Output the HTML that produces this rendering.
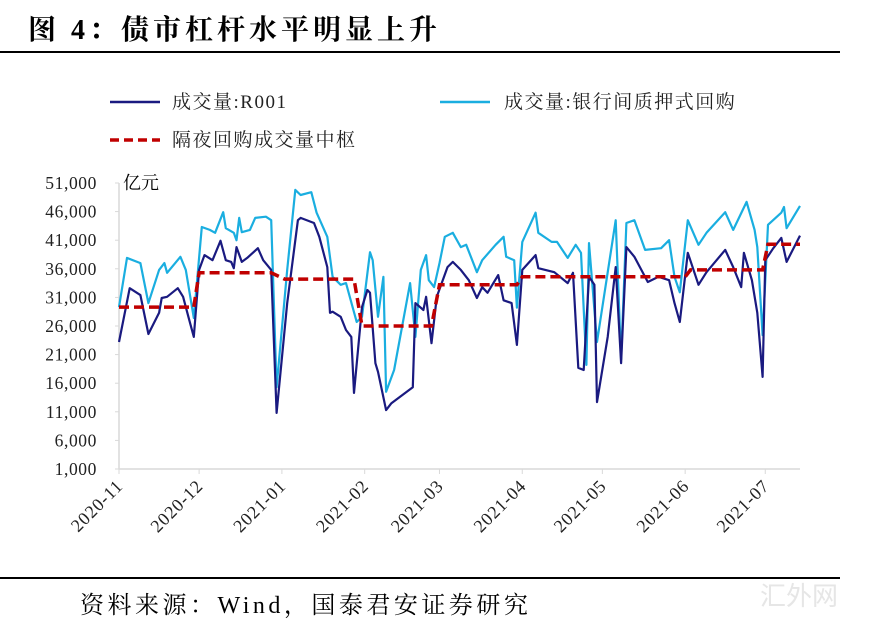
<!DOCTYPE html>
<html><head><meta charset="utf-8">
<style>
html,body{margin:0;padding:0;background:#fff;}
body{width:887px;height:625px;overflow:hidden;position:relative;font-family:"Liberation Serif","Noto Serif CJK SC",serif;}
</style></head>
<body>
<svg id="chart" width="887" height="625" xmlns="http://www.w3.org/2000/svg" style="position:absolute;left:0;top:0">
<text x="28" y="39" font-size="28" font-weight="bold" letter-spacing="4" font-family="Liberation Serif, Noto Serif CJK SC, serif" fill="#000">图 4：债市杠杆水平明显上升</text>
<line x1="0" y1="52" x2="840" y2="52" stroke="#000" stroke-width="2"/>
<g font-size="19" letter-spacing="1.5" font-family="Liberation Serif, Noto Serif CJK SC, serif" fill="#222">
<g><line x1="110" y1="102" x2="160" y2="102" stroke="#1a1a80" stroke-width="2.5"/><text x="172" y="108">成交量:R001</text></g>
<g><line x1="440" y1="102" x2="490" y2="102" stroke="#1aaee0" stroke-width="2.5"/><text x="504" y="108">成交量:银行间质押式回购</text></g>
<g><line x1="110" y1="140" x2="160" y2="140" stroke="#c00000" stroke-width="3.5" stroke-dasharray="9,5"/><text x="172" y="146">隔夜回购成交量中枢</text></g>
</g>
<text x="123" y="189" font-size="18" font-family="Liberation Serif, Noto Serif CJK SC, serif">亿元</text>
<g id="axes"></g>
<g id="series"></g>
<line x1="0" y1="578" x2="840" y2="578" stroke="#000" stroke-width="2"/>
<text x="80" y="613" font-size="24" letter-spacing="3.5" font-family="Liberation Serif, Noto Serif CJK SC, serif">资料来源：Wind，国泰君安证券研究</text>
<text x="760" y="605" font-size="26" fill="#e6e6e6" font-family="Liberation Sans, Noto Sans CJK SC, sans-serif">汇外网</text>
</svg>
<script>
const monthLabels=["2020-11","2020-12","2021-01","2021-02","2021-03","2021-04","2021-05","2021-06","2021-07"];
const monthDays=[0,30,61,92,120,151,181,212,242];
const yTicks=[1000,6000,11000,16000,21000,26000,31000,36000,41000,46000,51000];
const r001Days=[0,4,8,11,15,16,18,22,24,26,28,30,32,35,38,40,42,43,44,46,48,52,54,57,59,63,67,68,73,75,78,79,80,83,85,87,88,91,93,94,96,97,100,102,110,111,114,115,117,119,123,125,128,131,134,136,138,142,144,147,149,151,156,157,163,168,170,172,174,176,178,179,183,186,188,190,193,198,202,206,208,210,213,217,220,227,230,233,234,237,239,241,242,245,248,250,255];
const r001Vals=[23200,32600,31400,24600,28300,30900,31100,32600,31100,27600,24100,35800,38400,37500,40900,37500,37200,36100,39800,37200,37900,39600,37500,35800,10800,30000,44500,44900,44000,41600,36300,28300,28500,27600,25300,24100,14300,29300,32300,31800,19500,18000,11300,12500,15300,30000,28800,31100,23000,31100,36300,37200,35800,34000,30900,32800,31800,34900,30500,30000,22700,35800,38400,36100,35400,33500,35300,18700,18300,34600,33200,12700,24100,36300,19500,39800,38100,33700,34600,34000,30000,26700,38800,33200,35400,39300,36300,32800,38800,34000,28300,17100,37500,39600,41400,37200,41800];
const repoDays=[0,3,8,11,15,17,18,23,25,28,31,34,36,39,40,43,44,45,46,49,51,55,57,59,63,66,68,72,74,78,80,83,85,89,91,94,95,97,99,100,103,109,111,113,115,116,118,120,122,125,128,130,134,136,141,144,145,148,149,151,156,157,162,164,168,171,173,175,176,179,186,188,190,193,197,203,206,208,210,213,217,220,227,230,235,238,239,241,243,248,249,250,255];
const repoVals=[29300,37900,37000,30000,35800,37000,35300,38100,35800,27400,43300,42800,42300,45900,43100,42300,41000,44900,42400,42800,44900,45100,44500,15300,35800,49800,48900,49400,45800,41600,34600,33200,33500,26700,27600,38900,37500,27600,34600,14500,18300,33500,24100,35800,38400,34000,32800,37000,41600,42300,39800,40200,35400,37500,40200,41600,38100,37500,29200,40700,45800,42300,40700,40700,37900,40200,38800,19200,40500,23200,44500,20100,44000,44500,39300,39600,41000,34600,31900,44500,40200,42300,45900,42800,47700,42800,39800,24400,43700,45800,46800,43100,47000];
const medianDays=[0,28,30,57,62,88,91,117,120,149,151,212,214,241,243,255];
const medianVals=[29300,29300,35300,35300,34200,34200,26000,26000,33200,33200,34600,34600,35800,35800,40300,40300];

const X0=119,X1=800,Y0=469,Y1=183,DMAX=255,VMIN=1000,VMAX=51000;
function xs(d){return X0+(X1-X0)*d/DMAX;}
function ys(v){return Y0-(Y0-Y1)*(v-VMIN)/(VMAX-VMIN);}
const NS="http://www.w3.org/2000/svg";
const axes=document.getElementById('axes'),series=document.getElementById('series');
function mk(tag,attrs,parent){const e=document.createElementNS(NS,tag);for(const k in attrs)e.setAttribute(k,attrs[k]);parent.appendChild(e);return e;}

const yl=mk('line',{x1:X0,y1:Y1,x2:X0,y2:Y0,stroke:'#d9d9d9','stroke-width':1.5},axes);


const xl=mk('line',{x1:X0,y1:Y0,x2:X1,y2:Y0,stroke:'#d9d9d9','stroke-width':1.5},axes);


yTicks.forEach(v=>{
  const y=ys(v);
  mk('line',{x1:X0-4,y1:y,x2:X0,y2:y,stroke:'#d9d9d9'},axes);
  const t=mk('text',{x:97,y:y+6,'text-anchor':'end','font-size':17.5,'letter-spacing':0.6,fill:'#222'},axes);
  t.textContent=v.toLocaleString('en-US');
  
  
});
monthDays.forEach((d,i)=>{
  const x=xs(d);
  mk('line',{x1:x,y1:Y0,x2:x,y2:Y0+5,stroke:'#d9d9d9'},axes);
  const t=mk('text',{x:x+5,y:Y0+18,'text-anchor':'end','font-size':18,'letter-spacing':0.8,fill:'#222',transform:`rotate(-45 ${x+5} ${Y0+18})`},axes);
  t.textContent=monthLabels[i];
  
  
});
function path(days,vals){return days.map((d,i)=>(i?'L':'M')+xs(d).toFixed(1)+','+ys(vals[i]).toFixed(1)).join('');}
const p2=mk('path',{d:path(repoDays,repoVals),fill:'none',stroke:'#1aaee0','stroke-width':2.2,'stroke-linejoin':'round'},series);


const p1=mk('path',{d:path(r001Days,r001Vals),fill:'none',stroke:'#1a1a80','stroke-width':2.2,'stroke-linejoin':'round'},series);


const p3=mk('path',{d:path(medianDays,medianVals),fill:'none',stroke:'#c00000','stroke-width':3.5,'stroke-dasharray':'10,5'},series);


</script>
</body></html>
